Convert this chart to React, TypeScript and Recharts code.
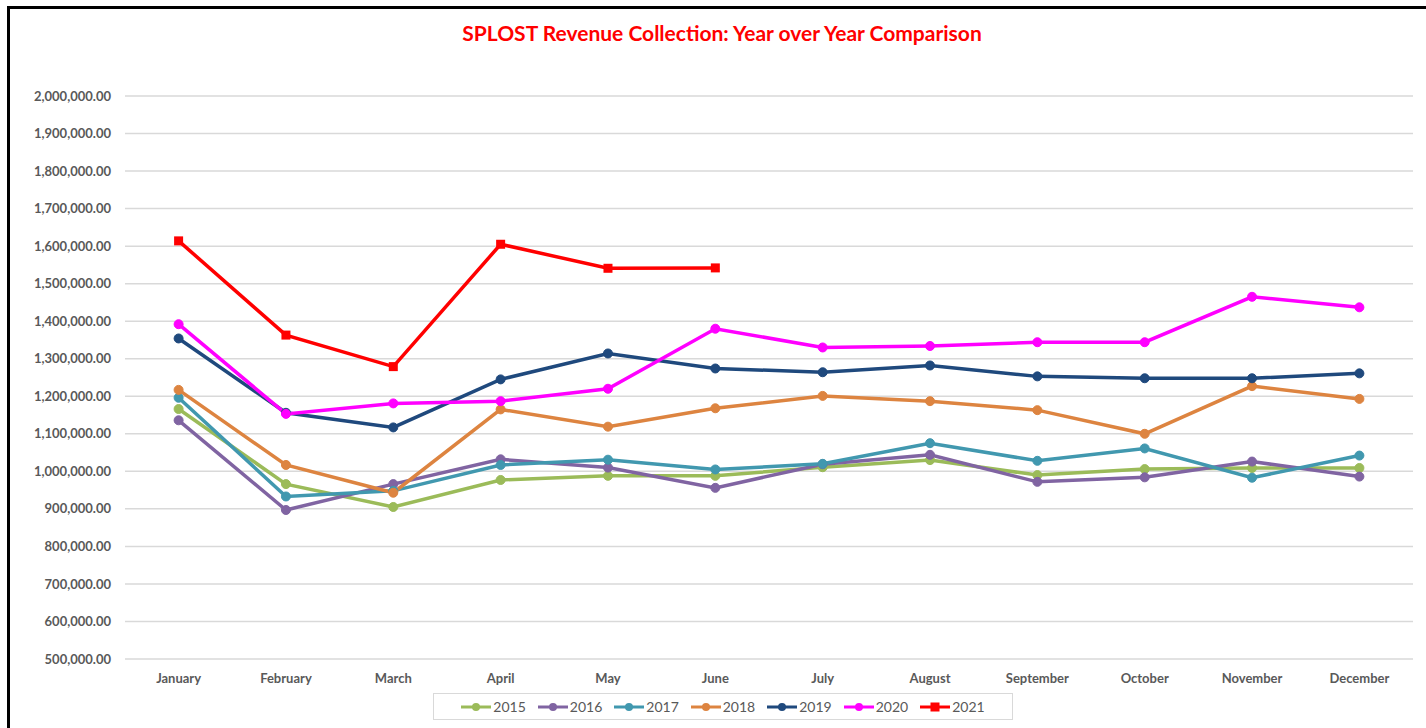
import React from "react";
import { LineChart, Line, XAxis, YAxis, CartesianGrid } from "recharts";

const months = ["January","February","March","April","May","June","July","August","September","October","November","December"];
const y2015 = [1166000, 966000, 905000, 977000, 988000, 988000, 1011000, 1030000, 990000, 1006000, 1009000, 1009000];
const y2016 = [1136000, 897000, 966000, 1032000, 1010000, 956000, 1019000, 1044000, 972000, 984000, 1026000, 986000];
const y2017 = [1196000, 933000, 948000, 1017000, 1031000, 1005000, 1020000, 1075000, 1028000, 1061000, 983000, 1042000];
const y2018 = [1217000, 1017000, 943000, 1165000, 1119000, 1168000, 1201000, 1187000, 1163000, 1100000, 1227000, 1193000];
const y2019 = [1354000, 1156000, 1117000, 1245000, 1314000, 1274000, 1264000, 1282000, 1253000, 1248000, 1248000, 1261000];
const y2020 = [1392000, 1153000, 1181000, 1187000, 1220000, 1380000, 1330000, 1334000, 1344000, 1344000, 1465000, 1437000];
const y2021 = [1614000, 1363000, 1279000, 1605000, 1541000, 1542000, null, null, null, null, null, null];
const yTicks = [500000, 600000, 700000, 800000, 900000, 1000000, 1100000, 1200000, 1300000, 1400000, 1500000, 1600000, 1700000, 1800000, 1900000, 2000000];

const seriesNames = ["2015", "2016", "2017", "2018", "2019", "2020", "2021"];
const seriesValues = [y2015, y2016, y2017, y2018, y2019, y2020, y2021];
const seriesColors = ["#9BBB59", "#8064A2", "#4198AF", "#DD8440", "#1F497D", "#FF00FF", "#FF0000"];

const data = months.map((m, i) => {
  const row: Record<string, any> = { month: m };
  seriesNames.forEach((n, j) => { row[n] = seriesValues[j][i]; });
  return row;
});

const fmt = (v: number) =>
  v.toLocaleString("en-US", { minimumFractionDigits: 2, maximumFractionDigits: 2 });

const FONT = "Lato, 'Open Sans', sans-serif";

const SquareDot = (props: any) => {
  const { cx, cy, key } = props;
  if (cx == null || cy == null || props.value == null) return <g key={key} />;
  return <rect key={key} x={cx - 4.5} y={cy - 4.5} width={9} height={9} fill="#FF0000" />;
};

const LegendBox = () => (
  <div
    style={{
      position: "absolute",
      left: 433,
      top: 693,
      width: 580,
      border: "1px solid #d9d9d9",
      height: 27,
      boxSizing: "border-box",
      display: "flex",
      alignItems: "center",
      justifyContent: "center",
      gap: 12,
      fontFamily: FONT,
      fontSize: 14,
      color: "#595959",
      background: "#fff",
    }}
  >
    {seriesNames.map((n, i) => (
      <div key={n} style={{ display: "flex", alignItems: "center" }}>
        <svg width={30} height={12} style={{ marginRight: 2 }}>
          <line x1={0} y1={6} x2={30} y2={6} stroke={seriesColors[i]} strokeWidth={3} />
          {n === "2021" ? (
            <rect x={10.5} y={1.5} width={9} height={9} fill={seriesColors[i]} />
          ) : (
            <circle cx={15} cy={6} r={4} fill={seriesColors[i]} />
          )}
        </svg>
        <span>{n}</span>
      </div>
    ))}
  </div>
);

export default function App() {
  return (
    <div style={{ position: "absolute", left: 0, top: 0, width: 1426, height: 728, overflow: "hidden", background: "#fff" }}>
      <div
        style={{
          position: "absolute",
          left: 7,
          top: 6,
          width: 1440,
          height: 740,
          border: "3px solid #000",
          boxSizing: "border-box",
        }}
      />
      <div
        style={{
          position: "absolute",
          left: 0,
          top: 20,
          width: 1444,
          textAlign: "center",
          color: "#FF0000",
          fontFamily: FONT,
          fontWeight: 700,
          fontSize: 21,
        }}
      >
        SPLOST Revenue Collection: Year over Year Comparison
      </div>
      <div style={{ position: "absolute", left: 0, top: 0 }}>
        <LineChart
          width={1426}
          height={728}
          data={data}
          margin={{ top: 96, right: 13, left: 0, bottom: 29 }}
        >
          <CartesianGrid vertical={false} stroke="#d9d9d9" strokeWidth={1.5} />
          <XAxis
            dataKey="month"
            axisLine={false}
            tickLine={false}
            padding={{ left: 53.6, right: 53.6 }}
            tick={{ fill: "#595959", fontSize: 13, fontWeight: 700, fontFamily: FONT }}
            tickMargin={15}
            tickSize={0}
            height={40}
            interval={0}
          />
          <YAxis
            domain={[500000, 2000000]}
            ticks={yTicks}
            tickFormatter={fmt}
            axisLine={false}
            tickLine={false}
            tickSize={0}
            tickMargin={14}
            width={125}
            interval={0}
            tick={{ fill: "#595959", fontSize: 13, fontWeight: 700, fontFamily: FONT }}
          />
          {seriesNames.map((n, i) =>
            n === "2021" ? (
              <Line
                key={n}
                dataKey={n}
                stroke={seriesColors[i]}
                strokeWidth={3.5}
                dot={SquareDot}
                activeDot={false}
                isAnimationActive={false}
              />
            ) : (
              <Line
                key={n}
                dataKey={n}
                stroke={seriesColors[i]}
                strokeWidth={3.5}
                dot={{ r: 4.5, fill: seriesColors[i], stroke: seriesColors[i], strokeWidth: 1 }}
                activeDot={false}
                isAnimationActive={false}
              />
            )
          )}
        </LineChart>
      </div>
      <LegendBox />
    </div>
  );
}
